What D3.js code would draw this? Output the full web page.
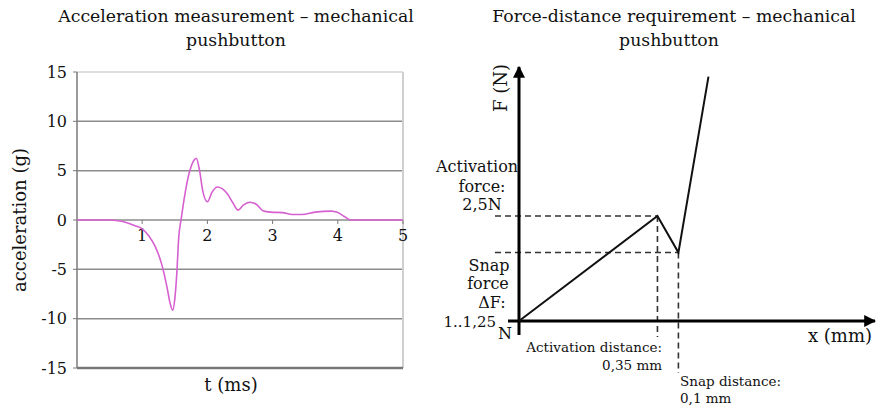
<!DOCTYPE html>
<html>
<head>
<meta charset="utf-8">
<title>pushbutton charts</title>
<script src="https://d3js.org/d3.v7.min.js"></script>
<style>
  body { margin: 0; background: #fff; }
</style>
</head>
<body>
<svg id="visual" width="876" height="408" font-family="'DejaVu Serif', serif"></svg>
<script>
// acceleration trace (t in ms, a in g)
var accT = [0, 0.3, 0.5, 0.6, 0.7, 0.8, 0.9, 1.0, 1.1, 1.2, 1.3, 1.38, 1.43, 1.47, 1.5, 1.53, 1.56, 1.6, 1.65, 1.7, 1.76, 1.83, 1.88, 1.93, 2.0, 2.07, 2.15, 2.22, 2.3, 2.39, 2.47, 2.55, 2.65, 2.75, 2.85, 2.97, 3.15, 3.3, 3.45, 3.65, 3.9, 4.0, 4.1, 4.2, 4.4, 5.0];
var accG = [0, 0, 0, -0.05, -0.15, -0.35, -0.6, -0.9, -1.6, -2.7, -4.5, -6.8, -8.5, -9.15, -8.0, -5.5, -1.8, 0.2, 2.4, 4.2, 5.6, 6.25, 5.0, 2.9, 1.85, 2.8, 3.35, 3.2, 2.7, 1.75, 1.0, 1.5, 1.8, 1.6, 0.95, 0.8, 0.75, 0.55, 0.55, 0.8, 0.9, 0.75, 0.35, 0, 0, 0];
var yTicks = [15, 10, 5, 0, -5, -10, -15];
var xTicks = [1, 2, 3, 4, 5];

// force-distance schematic (x in mm, F in N)
var fdX = [0, 0.35, 0.403, 0.479];
var fdF = [0, 2.5, 1.63, 5.82];

// font sizes
var fsTitle = 17.3, fsBig = 18, fsMid = 16, fsSmall = 13.5;

var svg = d3.select("#visual");

// ---------- left chart ----------
var x = d3.scaleLinear().domain([0, 5]).range([77, 403]);
var y = d3.scaleLinear().domain([-15, 15]).range([368, 72]);

var left = svg.append("g").attr("fill", "#111");

left.selectAll(".grid")
    .data([10, 5, 0, -5, -10])
    .enter().append("line")
    .attr("x1", x(0)).attr("x2", x(5))
    .attr("y1", function(d) { return y(d); })
    .attr("y2", function(d) { return y(d); })
    .attr("stroke", "#8c8c8c")
    .attr("stroke-width", 1.5);

// light frame top/right
left.append("line")
    .attr("x1", x(0)).attr("x2", x(5))
    .attr("y1", y(15)).attr("y2", y(15))
    .attr("stroke", "#d4d4d4").attr("stroke-width", 1.5);
left.append("line")
    .attr("x1", x(5)).attr("x2", x(5))
    .attr("y1", y(15)).attr("y2", y(-15))
    .attr("stroke", "#cfcfcf").attr("stroke-width", 2);

// left + bottom axis
left.append("line")
    .attr("x1", x(0)).attr("x2", x(0))
    .attr("y1", y(15)).attr("y2", y(-15))
    .attr("stroke", "#7a7a7a").attr("stroke-width", 1.5);
left.append("line")
    .attr("x1", x(0)).attr("x2", x(5))
    .attr("y1", y(-15)).attr("y2", y(-15))
    .attr("stroke", "#777").attr("stroke-width", 2.5);

// y tick marks + labels
left.selectAll(".ytick")
    .data(yTicks)
    .enter().append("line")
    .attr("x1", x(0) - 4).attr("x2", x(0))
    .attr("y1", function(d) { return y(d); })
    .attr("y2", function(d) { return y(d); })
    .attr("stroke", "#7a7a7a");
left.selectAll(".ylab")
    .data(yTicks)
    .enter().append("text")
    .attr("x", x(0) - 10)
    .attr("y", function(d) { return y(d); })
    .attr("dy", "0.35em")
    .attr("text-anchor", "end")
    .attr("font-size", fsMid)
    .text(function(d) { return d; });

// x ticks on zero line
left.selectAll(".xtick")
    .data(xTicks)
    .enter().append("line")
    .attr("x1", function(d) { return x(d); })
    .attr("x2", function(d) { return x(d); })
    .attr("y1", y(0)).attr("y2", y(0) + 4)
    .attr("stroke", "#7a7a7a");
left.selectAll(".xlab")
    .data(xTicks)
    .enter().append("text")
    .attr("x", function(d) { return x(d); })
    .attr("y", y(0) + 21)
    .attr("text-anchor", "middle")
    .attr("font-size", fsMid)
    .text(function(d) { return d; });

var accLine = d3.line()
    .x(function(d, i) { return x(accT[i]); })
    .y(function(d) { return y(d); })
    .curve(d3.curveMonotoneX);

left.append("path")
    .datum(accG)
    .attr("d", accLine)
    .attr("fill", "none")
    .attr("stroke", "#d660d0")
    .attr("stroke-width", 1.6);

left.append("text")
    .attr("x", 236).attr("y", 22)
    .attr("text-anchor", "middle").attr("font-size", fsTitle)
    .text("Acceleration measurement \u2013 mechanical");
left.append("text")
    .attr("x", 236).attr("y", 46)
    .attr("text-anchor", "middle").attr("font-size", fsTitle)
    .text("pushbutton");

left.append("text")
    .attr("x", 231).attr("y", 391)
    .attr("text-anchor", "middle").attr("font-size", fsBig)
    .text("t (ms)");

left.append("text")
    .attr("transform", "translate(26,220) rotate(-90)")
    .attr("text-anchor", "middle").attr("font-size", fsBig)
    .text("acceleration (g)");

// ---------- right chart ----------
var fx = d3.scaleLinear().domain([0, 0.9]).range([519, 875]);
var fy = d3.scaleLinear().domain([0, 6.05]).range([321, 67]);

var right = svg.append("g").attr("fill", "#111");

var defs = svg.append("defs");
defs.append("marker")
    .attr("id", "arrow")
    .attr("viewBox", "0 0 10 10")
    .attr("refX", 9).attr("refY", 5)
    .attr("markerWidth", 4).attr("markerHeight", 4)
    .attr("markerUnits", "strokeWidth")
    .attr("orient", "auto")
    .append("path")
    .attr("d", "M0,0 L10,5 L0,10 Z")
    .attr("fill", "#000");

// dashed guides
var dash = "6,4";
right.append("line")
    .attr("x1", 495).attr("x2", fx(fdX[1]))
    .attr("y1", fy(fdF[1])).attr("y2", fy(fdF[1]))
    .attr("stroke", "#333").attr("stroke-width", 1.6).attr("stroke-dasharray", dash);
right.append("line")
    .attr("x1", 495).attr("x2", fx(fdX[2]))
    .attr("y1", fy(fdF[2])).attr("y2", fy(fdF[2]))
    .attr("stroke", "#333").attr("stroke-width", 1.6).attr("stroke-dasharray", dash);
right.append("line")
    .attr("x1", fx(fdX[1])).attr("x2", fx(fdX[1]))
    .attr("y1", fy(fdF[1])).attr("y2", 337)
    .attr("stroke", "#333").attr("stroke-width", 1.6).attr("stroke-dasharray", dash);
right.append("line")
    .attr("x1", fx(fdX[2])).attr("x2", fx(fdX[2]))
    .attr("y1", fy(fdF[2])).attr("y2", 373)
    .attr("stroke", "#333").attr("stroke-width", 1.6).attr("stroke-dasharray", dash);

// axes with arrows
right.append("line")
    .attr("x1", fx(0)).attr("x2", fx(0))
    .attr("y1", 335).attr("y2", fy(6.05))
    .attr("stroke", "#000").attr("stroke-width", 3)
    .attr("marker-end", "url(#arrow)");
right.append("line")
    .attr("x1", 508).attr("x2", fx(0.9))
    .attr("y1", fy(0)).attr("y2", fy(0))
    .attr("stroke", "#000").attr("stroke-width", 3)
    .attr("marker-end", "url(#arrow)");

var fdLine = d3.line()
    .x(function(d, i) { return fx(fdX[i]); })
    .y(function(d) { return fy(d); });

right.append("path")
    .datum(fdF)
    .attr("d", fdLine)
    .attr("fill", "none")
    .attr("stroke", "#111")
    .attr("stroke-width", 2);

right.append("text")
    .attr("x", 674).attr("y", 22)
    .attr("text-anchor", "middle").attr("font-size", fsTitle)
    .text("Force-distance requirement \u2013 mechanical");
right.append("text")
    .attr("x", 669).attr("y", 46)
    .attr("text-anchor", "middle").attr("font-size", fsTitle)
    .text("pushbutton");

right.append("text")
    .attr("transform", "translate(507,88) rotate(-90)")
    .attr("text-anchor", "middle").attr("font-size", fsBig)
    .text("F (N)");

right.append("text")
    .attr("x", 872).attr("y", 342)
    .attr("text-anchor", "end").attr("font-size", fsBig)
    .text("x (mm)");

// left side annotations
var annL = [
  { t: "Activation", x: 477, y: 172, a: "middle" },
  { t: "force:", x: 482, y: 192, a: "middle" },
  { t: "2,5N", x: 482, y: 210, a: "middle" },
  { t: "Snap", x: 489, y: 271, a: "middle" },
  { t: "force", x: 488, y: 289, a: "middle" },
  { t: "\u0394F:", x: 492, y: 308, a: "middle" },
  { t: "1..1,25", x: 496, y: 327, a: "end" },
  { t: "N", x: 498, y: 339, a: "start" }
];
right.selectAll(".annL")
    .data(annL)
    .enter().append("text")
    .attr("x", function(d) { return d.x; })
    .attr("y", function(d) { return d.y; })
    .attr("text-anchor", function(d) { return d.a; })
    .attr("font-size", function(d) { return d.t == "1..1,25" ? 15 : fsMid; })
    .text(function(d) { return d.t; });

right.append("text")
    .attr("x", 662).attr("y", 352)
    .attr("text-anchor", "end").attr("font-size", fsSmall)
    .text("Activation distance:");
right.append("text")
    .attr("x", 662).attr("y", 370)
    .attr("text-anchor", "end").attr("font-size", fsSmall)
    .text("0,35 mm");
right.append("text")
    .attr("x", 680).attr("y", 386)
    .attr("font-size", fsSmall)
    .text("Snap distance:");
right.append("text")
    .attr("x", 680).attr("y", 403)
    .attr("font-size", fsSmall)
    .text("0,1 mm");
</script>
</body>
</html>
